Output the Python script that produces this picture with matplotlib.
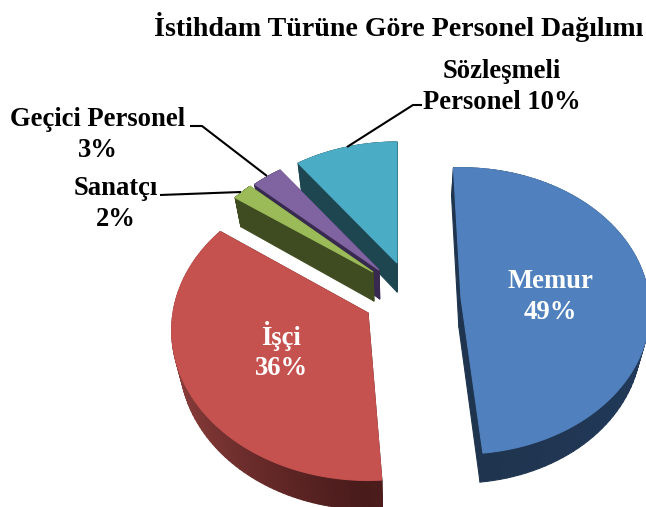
import numpy as np
import matplotlib
matplotlib.use("Agg")
import matplotlib.pyplot as plt
from matplotlib.collections import PolyCollection
from matplotlib.colors import to_rgb

plt.rcParams['font.family'] = ['Liberation Serif', 'DejaVu Serif']

title = "İstihdam Türüne Göre Personel Dağılımı"
categories = ["Memur", "İşçi", "Sanatçı", "Geçici Personel", "Sözleşmeli Personel"]
values = [49, 36, 2, 3, 10]
label_texts = ["Memur\n49%", "İşçi\n36%", "Sanatçı\n2%", "Geçici Personel\n3%", "Sözleşmeli\nPersonel 10%"]
colors = ["#5081BE", "#C5524F", "#9BBB59", "#8064A2", "#4BACC6"]
side_colors = ["#1F344E", "#4A1B1B", "#3F4B20", "#37294F", "#1E4651"]
rim_light_colors = ["#21395A", "#8C3E3B", "#3F4B20", "#37294F", "#1E4651"]

# layout of each exploded slice: apex x, apex y, rx, ry, perspective, angular shift
slice_layout = [
    (461, 298, 188, 142, 0.09, -2.5),
    (368, 313, 195, 148, 0.116, 0),
    (373, 272, 182, 135, 0.116, 0),
    (379, 270, 184, 135, 0.116, 0),
    (397, 263, 184, 135, 0.116, 0),
]
draw_order = [4, 3, 2, 1, 0]
DEPTH = 29
VANISH_X = 400
DEPTH_SHRINK = 0.035

fig = plt.figure(figsize=(6.46, 5.07), dpi=100)
ax = fig.add_axes([0, 0, 1, 1])
ax.set_xlim(0, 646)
ax.set_ylim(507, 0)
ax.axis("off")


def rim(theta_deg, lay):
    ax0, ay0, rx, ry, k, shift = lay
    t = np.radians(np.asarray(theta_deg) + shift)
    w = 1 + k * np.cos(t)
    return np.column_stack([ax0 + rx * np.sin(t) / w, ay0 - ry * np.cos(t) / w])


def extrude(pts):
    pts = np.atleast_2d(pts).astype(float)
    out = pts.copy()
    out[:, 0] += (VANISH_X - pts[:, 0]) * DEPTH_SHRINK
    out[:, 1] += DEPTH
    return out


bounds = np.concatenate([[0], np.cumsum(values)]) * 360.0 / sum(values)

for i in draw_order:
    lay = slice_layout[i]
    th = np.linspace(bounds[i], bounds[i + 1], 90)
    top = rim(th, lay)
    apex = np.array([[lay[0], lay[1]]], dtype=float)
    bot = extrude(top)
    apex_b = extrude(apex)
    side = np.array(to_rgb(side_colors[i]))
    light = np.array(to_rgb(rim_light_colors[i]))
    quads = [
        np.vstack([apex, top[:1], bot[:1], apex_b]),
        np.vstack([apex, top[-1:], bot[-1:], apex_b]),
    ]
    qcol = [tuple(side), tuple(side)]
    for j in range(len(th) - 1):
        quads.append(np.array([top[j], top[j + 1], bot[j + 1], bot[j]]))
        f = abs(np.sin(np.radians(th[j]))) ** 1.2
        qcol.append(tuple(side * (1 - f) + light * f))
    ax.add_collection(PolyCollection(quads, facecolors=qcol, edgecolors=qcol, linewidths=0.8, zorder=2))
    ax.fill(*np.vstack([apex, top]).T, facecolor=colors[i], edgecolor=colors[i], lw=0.8, zorder=3)

# leader lines
leaders = [
    ([241, 160], [192, 195]),
    ([267, 202, 190], [176, 126, 126]),
    ([347, 413, 422], [147, 105, 105]),
]
for lx, ly in leaders:
    ax.plot(lx, ly, color="black", lw=1.5, zorder=4, solid_capstyle="butt")

label_pos = [(550, 297, "white"), (281, 351, "white"), (116, 204, "black"), (98, 135, "black"), (502, 87, "black")]
for txt, (x, y, c) in zip(label_texts, label_pos):
    ax.text(x, y, txt, ha="center", va="center", fontsize=19.2, fontweight="bold", color=c,
            linespacing=1.265, zorder=5)

ax.text(399, 27, title, ha="center", va="center", fontsize=20.1, fontweight="bold", color="black", zorder=5)

fig.savefig("out.png", dpi=100)
